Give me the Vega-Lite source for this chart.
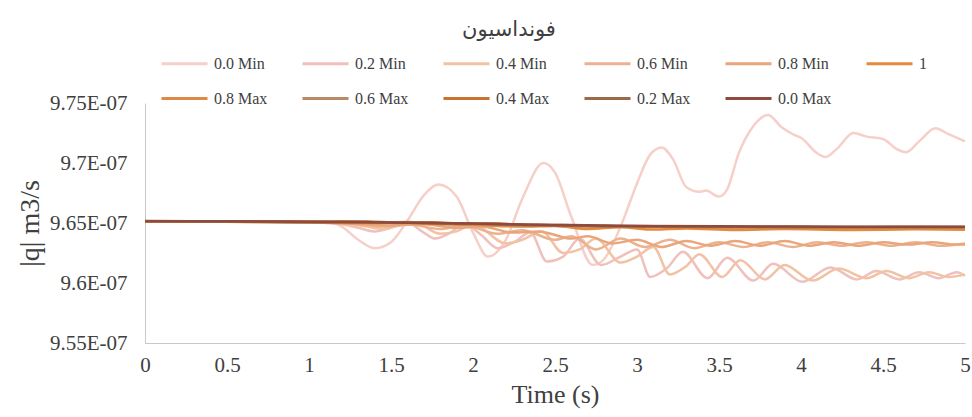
{
  "$schema": "https://vega.github.io/schema/vega-lite/v6.json",
  "width": 820,
  "height": 240,
  "autosize": {"type": "none"},
  "padding": {"left": 145, "top": 103, "right": 7, "bottom": 74},
  "background": "white",
  "title": {"text": "فونداسیون", "font": "DejaVu Sans", "fontSize": 21, "fontWeight": "normal", "color": "#404040", "anchor": "middle", "dx": -46, "dy": 5},
  "config": {
    "view": {"stroke": null},
    "axis": {"domainColor": "#c8c8c8", "domainWidth": 1, "ticks": false, "grid": false, "labelColor": "#404040", "titleFontWeight": "normal", "titleColor": "#404040"}
  },
  "data": {"values": [
    {"s":"0.0 Min","t":0,"q":9.6515e-7},{"s":"0.0 Min","t":0.5,"q":9.651e-7},{"s":"0.0 Min","t":1.0,"q":9.6515e-7},{"s":"0.0 Min","t":1.1,"q":9.651e-7},{"s":"0.0 Min","t":1.2,"q":9.647e-7},{"s":"0.0 Min","t":1.3,"q":9.636e-7},{"s":"0.0 Min","t":1.4,"q":9.629e-7},{"s":"0.0 Min","t":1.5,"q":9.634e-7},{"s":"0.0 Min","t":1.6,"q":9.652e-7},{"s":"0.0 Min","t":1.7,"q":9.673e-7},{"s":"0.0 Min","t":1.79,"q":9.682e-7},{"s":"0.0 Min","t":1.9,"q":9.672e-7},{"s":"0.0 Min","t":2.0,"q":9.642e-7},{"s":"0.0 Min","t":2.09,"q":9.622e-7},{"s":"0.0 Min","t":2.2,"q":9.636e-7},{"s":"0.0 Min","t":2.3,"q":9.670e-7},{"s":"0.0 Min","t":2.43,"q":9.700e-7},{"s":"0.0 Min","t":2.5,"q":9.692e-7},{"s":"0.0 Min","t":2.6,"q":9.655e-7},{"s":"0.0 Min","t":2.73,"q":9.615e-7},{"s":"0.0 Min","t":2.8,"q":9.620e-7},{"s":"0.0 Min","t":2.9,"q":9.647e-7},{"s":"0.0 Min","t":3.0,"q":9.683e-7},{"s":"0.0 Min","t":3.08,"q":9.707e-7},{"s":"0.0 Min","t":3.15,"q":9.713e-7},{"s":"0.0 Min","t":3.22,"q":9.703e-7},{"s":"0.0 Min","t":3.3,"q":9.680e-7},{"s":"0.0 Min","t":3.38,"q":9.676e-7},{"s":"0.0 Min","t":3.42,"q":9.677e-7},{"s":"0.0 Min","t":3.5,"q":9.672e-7},{"s":"0.0 Min","t":3.55,"q":9.678e-7},{"s":"0.0 Min","t":3.62,"q":9.708e-7},{"s":"0.0 Min","t":3.7,"q":9.729e-7},{"s":"0.0 Min","t":3.8,"q":9.740e-7},{"s":"0.0 Min","t":3.88,"q":9.730e-7},{"s":"0.0 Min","t":3.95,"q":9.724e-7},{"s":"0.0 Min","t":4.0,"q":9.721e-7},{"s":"0.0 Min","t":4.1,"q":9.708e-7},{"s":"0.0 Min","t":4.15,"q":9.705e-7},{"s":"0.0 Min","t":4.22,"q":9.712e-7},{"s":"0.0 Min","t":4.32,"q":9.725e-7},{"s":"0.0 Min","t":4.4,"q":9.722e-7},{"s":"0.0 Min","t":4.5,"q":9.720e-7},{"s":"0.0 Min","t":4.58,"q":9.712e-7},{"s":"0.0 Min","t":4.64,"q":9.709e-7},{"s":"0.0 Min","t":4.72,"q":9.718e-7},{"s":"0.0 Min","t":4.82,"q":9.729e-7},{"s":"0.0 Min","t":4.9,"q":9.724e-7},{"s":"0.0 Min","t":5.0,"q":9.718e-7},

    {"s":"0.2 Min","t":0,"q":9.6515e-7},{"s":"0.2 Min","t":0.5,"q":9.651e-7},{"s":"0.2 Min","t":1.0,"q":9.651e-7},{"s":"0.2 Min","t":1.1,"q":9.650e-7},{"s":"0.2 Min","t":1.2,"q":9.649e-7},{"s":"0.2 Min","t":1.3,"q":9.646e-7},{"s":"0.2 Min","t":1.4,"q":9.643e-7},{"s":"0.2 Min","t":1.5,"q":9.646e-7},{"s":"0.2 Min","t":1.6,"q":9.650e-7},{"s":"0.2 Min","t":1.7,"q":9.642e-7},{"s":"0.2 Min","t":1.77,"q":9.637e-7},{"s":"0.2 Min","t":1.85,"q":9.641e-7},{"s":"0.2 Min","t":1.95,"q":9.649e-7},{"s":"0.2 Min","t":2.05,"q":9.640e-7},{"s":"0.2 Min","t":2.15,"q":9.629e-7},{"s":"0.2 Min","t":2.25,"q":9.634e-7},{"s":"0.2 Min","t":2.35,"q":9.642e-7},{"s":"0.2 Min","t":2.45,"q":9.618e-7},{"s":"0.2 Min","t":2.55,"q":9.622e-7},{"s":"0.2 Min","t":2.65,"q":9.637e-7},{"s":"0.2 Min","t":2.78,"q":9.615e-7},{"s":"0.2 Min","t":2.9,"q":9.622e-7},{"s":"0.2 Min","t":3.0,"q":9.628e-7},{"s":"0.2 Min","t":3.08,"q":9.605e-7},{"s":"0.2 Min","t":3.18,"q":9.612e-7},{"s":"0.2 Min","t":3.28,"q":9.626e-7},{"s":"0.2 Min","t":3.43,"q":9.604e-7},{"s":"0.2 Min","t":3.55,"q":9.621e-7},{"s":"0.2 Min","t":3.71,"q":9.602e-7},{"s":"0.2 Min","t":3.83,"q":9.616e-7},{"s":"0.2 Min","t":4.01,"q":9.601e-7},{"s":"0.2 Min","t":4.18,"q":9.613e-7},{"s":"0.2 Min","t":4.34,"q":9.603e-7},{"s":"0.2 Min","t":4.46,"q":9.610e-7},{"s":"0.2 Min","t":4.6,"q":9.603e-7},{"s":"0.2 Min","t":4.72,"q":9.609e-7},{"s":"0.2 Min","t":4.84,"q":9.604e-7},{"s":"0.2 Min","t":4.95,"q":9.609e-7},{"s":"0.2 Min","t":5.0,"q":9.606e-7},

    {"s":"0.4 Min","t":0,"q":9.6515e-7},{"s":"0.4 Min","t":1.0,"q":9.651e-7},{"s":"0.4 Min","t":1.2,"q":9.650e-7},{"s":"0.4 Min","t":1.35,"q":9.647e-7},{"s":"0.4 Min","t":1.45,"q":9.645e-7},{"s":"0.4 Min","t":1.55,"q":9.648e-7},{"s":"0.4 Min","t":1.65,"q":9.650e-7},{"s":"0.4 Min","t":1.8,"q":9.641e-7},{"s":"0.4 Min","t":1.9,"q":9.643e-7},{"s":"0.4 Min","t":2.0,"q":9.649e-7},{"s":"0.4 Min","t":2.2,"q":9.633e-7},{"s":"0.4 Min","t":2.3,"q":9.636e-7},{"s":"0.4 Min","t":2.42,"q":9.643e-7},{"s":"0.4 Min","t":2.55,"q":9.625e-7},{"s":"0.4 Min","t":2.65,"q":9.628e-7},{"s":"0.4 Min","t":2.75,"q":9.637e-7},{"s":"0.4 Min","t":2.9,"q":9.617e-7},{"s":"0.4 Min","t":3.0,"q":9.622e-7},{"s":"0.4 Min","t":3.1,"q":9.630e-7},{"s":"0.4 Min","t":3.2,"q":9.607e-7},{"s":"0.4 Min","t":3.3,"q":9.614e-7},{"s":"0.4 Min","t":3.38,"q":9.624e-7},{"s":"0.4 Min","t":3.52,"q":9.605e-7},{"s":"0.4 Min","t":3.63,"q":9.619e-7},{"s":"0.4 Min","t":3.78,"q":9.603e-7},{"s":"0.4 Min","t":3.9,"q":9.615e-7},{"s":"0.4 Min","t":4.07,"q":9.602e-7},{"s":"0.4 Min","t":4.23,"q":9.612e-7},{"s":"0.4 Min","t":4.4,"q":9.604e-7},{"s":"0.4 Min","t":4.52,"q":9.610e-7},{"s":"0.4 Min","t":4.66,"q":9.604e-7},{"s":"0.4 Min","t":4.78,"q":9.609e-7},{"s":"0.4 Min","t":4.9,"q":9.605e-7},{"s":"0.4 Min","t":5.0,"q":9.607e-7},

    {"s":"0.6 Min","t":0,"q":9.6515e-7},{"s":"0.6 Min","t":1.0,"q":9.651e-7},{"s":"0.6 Min","t":1.3,"q":9.649e-7},{"s":"0.6 Min","t":1.45,"q":9.647e-7},{"s":"0.6 Min","t":1.6,"q":9.649e-7},{"s":"0.6 Min","t":1.8,"q":9.645e-7},{"s":"0.6 Min","t":1.95,"q":9.648e-7},{"s":"0.6 Min","t":2.15,"q":9.641e-7},{"s":"0.6 Min","t":2.3,"q":9.644e-7},{"s":"0.6 Min","t":2.5,"q":9.636e-7},{"s":"0.6 Min","t":2.6,"q":9.639e-7},{"s":"0.6 Min","t":2.75,"q":9.628e-7},{"s":"0.6 Min","t":2.9,"q":9.637e-7},{"s":"0.6 Min","t":3.05,"q":9.630e-7},{"s":"0.6 Min","t":3.2,"q":9.636e-7},{"s":"0.6 Min","t":3.35,"q":9.629e-7},{"s":"0.6 Min","t":3.5,"q":9.634e-7},{"s":"0.6 Min","t":3.65,"q":9.630e-7},{"s":"0.6 Min","t":3.8,"q":9.634e-7},{"s":"0.6 Min","t":3.95,"q":9.630e-7},{"s":"0.6 Min","t":4.1,"q":9.634e-7},{"s":"0.6 Min","t":4.25,"q":9.631e-7},{"s":"0.6 Min","t":4.4,"q":9.634e-7},{"s":"0.6 Min","t":4.55,"q":9.631e-7},{"s":"0.6 Min","t":4.7,"q":9.634e-7},{"s":"0.6 Min","t":4.85,"q":9.631e-7},{"s":"0.6 Min","t":5.0,"q":9.633e-7},

    {"s":"0.8 Min","t":0,"q":9.6515e-7},{"s":"0.8 Min","t":1.0,"q":9.651e-7},{"s":"0.8 Min","t":1.35,"q":9.649e-7},{"s":"0.8 Min","t":1.5,"q":9.648e-7},{"s":"0.8 Min","t":1.7,"q":9.649e-7},{"s":"0.8 Min","t":1.9,"q":9.646e-7},{"s":"0.8 Min","t":2.05,"q":9.647e-7},{"s":"0.8 Min","t":2.25,"q":9.642e-7},{"s":"0.8 Min","t":2.4,"q":9.643e-7},{"s":"0.8 Min","t":2.6,"q":9.637e-7},{"s":"0.8 Min","t":2.7,"q":9.639e-7},{"s":"0.8 Min","t":2.85,"q":9.633e-7},{"s":"0.8 Min","t":3.0,"q":9.636e-7},{"s":"0.8 Min","t":3.15,"q":9.630e-7},{"s":"0.8 Min","t":3.3,"q":9.635e-7},{"s":"0.8 Min","t":3.45,"q":9.631e-7},{"s":"0.8 Min","t":3.6,"q":9.635e-7},{"s":"0.8 Min","t":3.75,"q":9.631e-7},{"s":"0.8 Min","t":3.9,"q":9.635e-7},{"s":"0.8 Min","t":4.05,"q":9.631e-7},{"s":"0.8 Min","t":4.2,"q":9.634e-7},{"s":"0.8 Min","t":4.35,"q":9.631e-7},{"s":"0.8 Min","t":4.5,"q":9.634e-7},{"s":"0.8 Min","t":4.65,"q":9.632e-7},{"s":"0.8 Min","t":4.8,"q":9.634e-7},{"s":"0.8 Min","t":4.95,"q":9.632e-7},{"s":"0.8 Min","t":5.0,"q":9.632e-7},

    {"s":"1","t":0,"q":9.6515e-7},{"s":"1","t":0.5,"q":9.651e-7},{"s":"1","t":1.0,"q":9.6505e-7},{"s":"1","t":1.3,"q":9.650e-7},{"s":"1","t":1.5,"q":9.6505e-7},{"s":"1","t":1.8,"q":9.649e-7},{"s":"1","t":2.0,"q":9.6485e-7},{"s":"1","t":2.3,"q":9.647e-7},{"s":"1","t":2.5,"q":9.6475e-7},{"s":"1","t":2.7,"q":9.645e-7},{"s":"1","t":2.9,"q":9.6465e-7},{"s":"1","t":3.1,"q":9.6445e-7},{"s":"1","t":3.3,"q":9.6455e-7},{"s":"1","t":3.6,"q":9.6442e-7},{"s":"1","t":3.9,"q":9.645e-7},{"s":"1","t":4.3,"q":9.6442e-7},{"s":"1","t":4.7,"q":9.6447e-7},{"s":"1","t":5.0,"q":9.6443e-7},

    {"s":"0.8 Max","t":0,"q":9.6515e-7},{"s":"0.8 Max","t":0.5,"q":9.6512e-7},{"s":"0.8 Max","t":1.0,"q":9.6508e-7},{"s":"0.8 Max","t":1.2,"q":9.6515e-7},{"s":"0.8 Max","t":1.4,"q":9.650e-7},{"s":"0.8 Max","t":1.6,"q":9.6508e-7},{"s":"0.8 Max","t":1.8,"q":9.6495e-7},{"s":"0.8 Max","t":2.0,"q":9.6492e-7},{"s":"0.8 Max","t":2.2,"q":9.648e-7},{"s":"0.8 Max","t":2.4,"q":9.6485e-7},{"s":"0.8 Max","t":2.6,"q":9.647e-7},{"s":"0.8 Max","t":2.8,"q":9.6478e-7},{"s":"0.8 Max","t":3.0,"q":9.6465e-7},{"s":"0.8 Max","t":3.3,"q":9.6468e-7},{"s":"0.8 Max","t":3.6,"q":9.6462e-7},{"s":"0.8 Max","t":4.0,"q":9.6465e-7},{"s":"0.8 Max","t":4.5,"q":9.646e-7},{"s":"0.8 Max","t":5.0,"q":9.6462e-7},

    {"s":"0.6 Max","t":0,"q":9.6515e-7},{"s":"0.6 Max","t":0.5,"q":9.651e-7},{"s":"0.6 Max","t":1.0,"q":9.6505e-7},{"s":"0.6 Max","t":1.3,"q":9.6512e-7},{"s":"0.6 Max","t":1.5,"q":9.650e-7},{"s":"0.6 Max","t":1.7,"q":9.6505e-7},{"s":"0.6 Max","t":1.9,"q":9.649e-7},{"s":"0.6 Max","t":2.1,"q":9.6495e-7},{"s":"0.6 Max","t":2.3,"q":9.648e-7},{"s":"0.6 Max","t":2.5,"q":9.6482e-7},{"s":"0.6 Max","t":2.7,"q":9.6472e-7},{"s":"0.6 Max","t":2.9,"q":9.6475e-7},{"s":"0.6 Max","t":3.2,"q":9.6468e-7},{"s":"0.6 Max","t":3.5,"q":9.6466e-7},{"s":"0.6 Max","t":4.0,"q":9.6465e-7},{"s":"0.6 Max","t":4.5,"q":9.6463e-7},{"s":"0.6 Max","t":5.0,"q":9.6463e-7},

    {"s":"0.4 Max","t":0,"q":9.6515e-7},{"s":"0.4 Max","t":0.6,"q":9.6512e-7},{"s":"0.4 Max","t":1.1,"q":9.6508e-7},{"s":"0.4 Max","t":1.35,"q":9.6513e-7},{"s":"0.4 Max","t":1.55,"q":9.6502e-7},{"s":"0.4 Max","t":1.75,"q":9.6507e-7},{"s":"0.4 Max","t":1.95,"q":9.6493e-7},{"s":"0.4 Max","t":2.15,"q":9.6496e-7},{"s":"0.4 Max","t":2.35,"q":9.6482e-7},{"s":"0.4 Max","t":2.55,"q":9.6484e-7},{"s":"0.4 Max","t":2.75,"q":9.6473e-7},{"s":"0.4 Max","t":3.0,"q":9.6474e-7},{"s":"0.4 Max","t":3.3,"q":9.6468e-7},{"s":"0.4 Max","t":3.7,"q":9.6467e-7},{"s":"0.4 Max","t":4.2,"q":9.6465e-7},{"s":"0.4 Max","t":4.6,"q":9.6466e-7},{"s":"0.4 Max","t":5.0,"q":9.6465e-7},

    {"s":"0.2 Max","t":0,"q":9.6515e-7},{"s":"0.2 Max","t":0.5,"q":9.6513e-7},{"s":"0.2 Max","t":1.0,"q":9.6509e-7},{"s":"0.2 Max","t":1.4,"q":9.6507e-7},{"s":"0.2 Max","t":1.8,"q":9.6498e-7},{"s":"0.2 Max","t":2.2,"q":9.6488e-7},{"s":"0.2 Max","t":2.6,"q":9.6478e-7},{"s":"0.2 Max","t":3.0,"q":9.6472e-7},{"s":"0.2 Max","t":3.5,"q":9.6469e-7},{"s":"0.2 Max","t":4.0,"q":9.6467e-7},{"s":"0.2 Max","t":4.5,"q":9.6467e-7},{"s":"0.2 Max","t":5.0,"q":9.6466e-7},

    {"s":"0.0 Max","t":0,"q":9.6516e-7},{"s":"0.0 Max","t":0.5,"q":9.6514e-7},{"s":"0.0 Max","t":1.0,"q":9.6510e-7},{"s":"0.0 Max","t":1.5,"q":9.6505e-7},{"s":"0.0 Max","t":2.0,"q":9.6495e-7},{"s":"0.0 Max","t":2.5,"q":9.6484e-7},{"s":"0.0 Max","t":3.0,"q":9.6476e-7},{"s":"0.0 Max","t":3.5,"q":9.6472e-7},{"s":"0.0 Max","t":4.0,"q":9.6470e-7},{"s":"0.0 Max","t":4.5,"q":9.6469e-7},{"s":"0.0 Max","t":5.0,"q":9.6468e-7}
  ]},
  "mark": {"type": "line", "strokeWidth": 2.5, "interpolate": "monotone"},
  "encoding": {
    "x": {"field": "t", "type": "quantitative", "scale": {"domain": [0, 5], "nice": false},
      "axis": {"values": [0, 0.5, 1, 1.5, 2, 2.5, 3, 3.5, 4, 4.5, 5], "format": "~g", "title": "Time (s)", "titleFontSize": 26, "labelFont": "Liberation Serif", "titleFont": "Liberation Serif", "labelFontSize": 21, "labelPadding": 11, "titlePadding": 6, "labelFlush": false}},
    "y": {"field": "q", "type": "quantitative", "scale": {"domain": [9.55e-7, 9.75e-7], "nice": false, "zero": false},
      "axis": {"values": [9.55e-7, 9.6e-7, 9.65e-7, 9.7e-7, 9.75e-7], "labelExpr": "replace(upper(format(datum.value, '~e')), 'E-', 'E-0')", "title": "|q| m3/s", "labelFont": "Liberation Serif", "titleFont": "Liberation Serif", "labelFontSize": 21, "titleFontSize": 28, "labelPadding": 18, "titlePadding": 5}},
    "color": {"field": "s", "type": "nominal", "sort": null,
      "scale": {"domain": ["0.0 Min", "0.2 Min", "0.4 Min", "0.6 Min", "0.8 Min", "1", "0.8 Max", "0.6 Max", "0.4 Max", "0.2 Max", "0.0 Max"],
        "range": ["#f6cfc8", "#efc0bc", "#f2c2a4", "#ebb28f", "#eba57a", "#e48a3c", "#dd8a48", "#b88a68", "#c9732e", "#9a6a48", "#8e4a3c"]},
      "legend": {"orient": "none", "legendX": 15, "legendY": -64, "direction": "horizontal", "columns": 6, "title": null, "symbolType": "stroke", "symbolSize": 2116, "symbolStrokeWidth": 3, "labelFont": "Liberation Serif", "labelFontSize": 16, "labelColor": "#404040", "labelOffset": 5, "gridAlign": "all", "columnPadding": 28, "rowPadding": 2}}
  }
}
